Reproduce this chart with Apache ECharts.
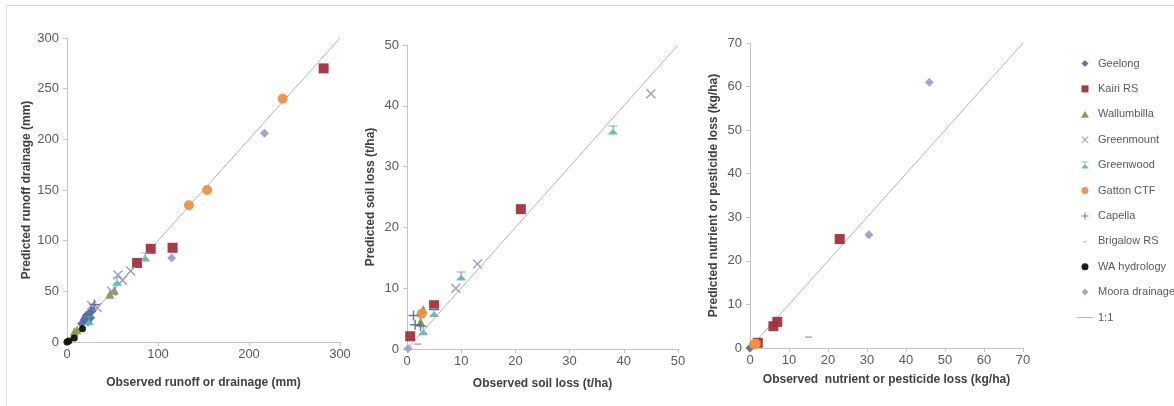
<!DOCTYPE html>
<html>
<head>
<meta charset="utf-8">
<script src="https://cdn.jsdelivr.net/npm/echarts@6/dist/echarts.min.js"></script>
<style>
  html, body { margin: 0; padding: 0; background: #fff; }
  #main { width: 1174px; height: 406px; }
</style>
</head>
<body>
<div id="main"></div>
<script>
// sites, in legend order
const siteNames = ['Geelong', 'Kairi RS', 'Wallumbilla', 'Greenmount', 'Greenwood',
  'Gatton CTF', 'Capella', 'Brigalow RS', 'WA hydrology', 'Moora drainage'];

// runoff / drainage (mm): [observed, predicted]
const runoffGeelong = [[16, 18], [19, 22], [21, 26], [24, 28], [26, 24], [23, 20], [28, 31]];
const runoffKairi = [[77, 78], [92, 92], [116, 93], [282, 270]];
const runoffWallumbilla = [[8, 10], [11, 12], [47, 47], [52, 51]];
const runoffGreenmount = [[56, 66], [61, 61], [70, 70], [27, 36], [33, 34], [49, 50]];
const runoffGreenwood = [[86, 84], [55, 60], [24, 21]];
const runoffGatton = [[134, 135], [154, 150], [237, 240]];
const runoffCapella = [[30, 37], [26, 30], [21, 24]];
const runoffWA = [[0, 0], [2, 1], [8, 4], [17, 13]];
const runoffMoora = [[217, 206], [115, 83]];

// soil loss (t/ha)
const soilKairi = [[0.6, 2.1], [5, 7.2], [21, 23]];
const soilWallumbilla = [[3, 6.5], [2.5, 4.5]];
const soilGreenmount = [[9, 10], [13, 14], [45, 42]];
const soilGreenwood = [[3, 3], [5, 6], [10, 12], [38, 36]];
const soilGatton = [[2.7, 5.8]];
const soilCapella = [[1.2, 5.5], [1.5, 4], [2.5, 3.8]];
const soilBrigalow = [[2, 0.8]];
const soilMoora = [[0.2, 0.1]];

// nutrient or pesticide loss (kg/ha)
const nutrientGeelong = [[0, 0]];
const nutrientKairi = [[2, 1.2], [6, 5], [7, 6], [23, 25]];
const nutrientGatton = [[1, 0.8], [1.5, 1]];
const nutrientBrigalow = [[15, 2.5]];
const nutrientMoora = [[30.5, 26], [46, 61]];

// 1:1 reference lines
const runoffOneToOne = [[0, 0], [300, 300]];
const soilOneToOne = [[0, 0], [50, 50]];
const nutrientOneToOne = [[0, 0], [70, 70]];

// marker shapes as paths so the legend keeps their aspect
const DIAMOND = 'path://M5,0L10,5L5,10L0,5Z';
const SQUARE = 'path://M0,0H10V10H0Z';
const TRIANGLE = 'path://M5,0L10,10H0Z';
const CIRCLE = 'path://M5,0A5,5,0,1,1,5,10A5,5,0,1,1,5,0Z';

const markers = {
  'Geelong': { symbol: DIAMOND, size: 9, color: '#4a6fb0' },
  'Kairi RS': { symbol: SQUARE, size: 10, color: '#a3303a' },
  'Wallumbilla': { symbol: TRIANGLE, size: 9, color: '#8a9a4a' },
  'Greenmount': { symbol: 'path://M0,1L1,0L5,4L9,0L10,1L6,5L10,9L9,10L5,6L1,10L0,9L4,5Z', size: 10, color: '#9c97b8' },
  'Greenwood': { symbol: 'path://M0,0H10V1H5.8L5.6,4.2L10,9V10H0V9L4.4,4.2L4.2,1H0Z', size: 9, color: '#62b9b4' },
  'Gatton CTF': { symbol: CIRCLE, size: 10, color: '#ec9242' },
  'Capella': { symbol: 'path://M4.3,0H5.7V4.3H10V5.7H5.7V10H4.3V5.7H0V4.3H4.3Z', size: 10, color: '#5f7090' },
  'Brigalow RS': { symbol: 'path://M0,0H10V1.6H0Z', size: [7, 1.5], color: '#c99aa8' },
  'WA hydrology': { symbol: CIRCLE, size: 7, color: '#111111' },
  'Moora drainage': { symbol: DIAMOND, size: 9, color: '#a4a0c2' }
};

// legend icons (the dash is padded with tiny corner dots so it stays short)
const legendIcons = {
  'Geelong': DIAMOND,
  'Kairi RS': SQUARE,
  'Wallumbilla': 'path://M5,0L10,8.7H0Z',
  'Greenmount': markers['Greenmount'].symbol,
  'Greenwood': markers['Greenwood'].symbol,
  'Gatton CTF': CIRCLE,
  'Capella': markers['Capella'].symbol,
  'Brigalow RS': 'path://M0,-4H0.01V-3.99H0Z M3,0H7V1.2H3Z M10,4H10.01V4.01H10Z',
  'WA hydrology': CIRCLE,
  'Moora drainage': DIAMOND
};

const panels = [
  {
    grid: { left: 67, top: 38, width: 273, height: 304 },
    max: 300, xInterval: 100, yInterval: 50, yGap: 34, xGap: 35,
    yName: 'Predicted runoff drainage (mm)', xName: 'Observed runoff or drainage (mm)',
    line: runoffOneToOne,
    points: {
      'Geelong': runoffGeelong, 'Kairi RS': runoffKairi, 'Wallumbilla': runoffWallumbilla,
      'Greenmount': runoffGreenmount, 'Greenwood': runoffGreenwood, 'Gatton CTF': runoffGatton,
      'Capella': runoffCapella, 'WA hydrology': runoffWA, 'Moora drainage': runoffMoora
    }
  },
  {
    grid: { left: 407, top: 45, width: 271, height: 304 },
    max: 50, xInterval: 10, yInterval: 10, yGap: 30, xGap: 29,
    yName: 'Predicted soil loss (t/ha)', xName: 'Observed soil loss (t/ha)',
    line: soilOneToOne,
    points: {
      'Kairi RS': soilKairi, 'Wallumbilla': soilWallumbilla, 'Greenmount': soilGreenmount,
      'Greenwood': soilGreenwood, 'Gatton CTF': soilGatton, 'Capella': soilCapella,
      'Brigalow RS': soilBrigalow, 'Moora drainage': soilMoora
    }
  },
  {
    grid: { left: 750, top: 43, width: 273, height: 305 },
    max: 70, xInterval: 10, yInterval: 10, yGap: 30, xGap: 26,
    yName: 'Predicted nutrient or pesticide loss (kg/ha)', xName: 'Observed  nutrient or pesticide loss (kg/ha)',
    line: nutrientOneToOne,
    points: {
      'Geelong': nutrientGeelong, 'Kairi RS': nutrientKairi, 'Gatton CTF': nutrientGatton,
      'Brigalow RS': nutrientBrigalow, 'Moora drainage': nutrientMoora
    }
  }
];

const fontFamily = "'Liberation Sans Narrow', 'Liberation Sans', sans-serif";
const axisColor = '#c4c4c4';
const labelColor = '#595959';

function axis(p, i, isX) {
  return {
    type: 'value',
    gridIndex: i,
    min: 0,
    max: p.max,
    interval: isX ? p.xInterval : p.yInterval,
    name: isX ? p.xName : p.yName,
    nameLocation: 'middle',
    nameGap: isX ? p.xGap : p.yGap,
    nameTextStyle: { color: '#404040', fontSize: 12, fontWeight: 'bold', fontFamily: fontFamily },
    axisLine: { show: true, lineStyle: { color: axisColor, width: 1 } },
    axisTick: { show: true, length: 4, lineStyle: { color: axisColor } },
    axisLabel: { color: labelColor, fontSize: 13, fontFamily: fontFamily, margin: isX ? 6 : 8 },
    splitLine: { show: false }
  };
}

const series = [];
panels.forEach((p, i) => {
  series.push({
    name: '1:1',
    type: 'line',
    xAxisIndex: i,
    yAxisIndex: i,
    data: p.line,
    showSymbol: false,
    silent: true,
    z: 1,
    lineStyle: { color: '#b3b3b3', width: 1 },
    itemStyle: { color: '#b3b3b3' }
  });
  siteNames.forEach(name => {
    if (!p.points[name]) return;
    const m = markers[name];
    series.push({
      name: name,
      type: 'scatter',
      xAxisIndex: i,
      yAxisIndex: i,
      data: p.points[name],
      symbol: m.symbol,
      symbolSize: m.size,
      z: 3,
      itemStyle: { color: m.color, opacity: 0.95 }
    });
  });
});

const chart = echarts.init(document.getElementById('main'));
chart.setOption({
  backgroundColor: '#ffffff',
  animation: false,
  grid: panels.map(p => p.grid),
  xAxis: panels.map((p, i) => axis(p, i, true)),
  yAxis: panels.map((p, i) => axis(p, i, false)),
  legend: {
    orient: 'vertical',
    left: 1072,
    top: 53,
    itemWidth: 16,
    itemHeight: 7,
    itemGap: 14.4,
    symbolKeepAspect: true,
    textStyle: { color: labelColor, fontSize: 11, fontFamily: fontFamily },
    data: siteNames.map(n => ({ name: n, icon: legendIcons[n] }))
      .concat([{ name: '1:1', icon: 'path://M0,0H20V1.2H0Z' }])
  },
  graphic: [
    { type: 'line', shape: { x1: 6, y1: 5.5, x2: 1174, y2: 5.5 }, style: { stroke: '#d6d6d6', lineWidth: 1 } },
    { type: 'line', shape: { x1: 6.5, y1: 5, x2: 6.5, y2: 406 }, style: { stroke: '#e2e2e2', lineWidth: 1 } }
  ],
  series: series
});
</script>
</body>
</html>
